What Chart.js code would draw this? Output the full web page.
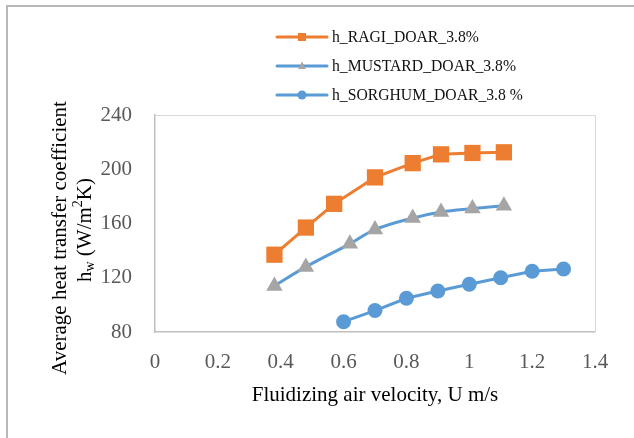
<!DOCTYPE html>
<html>
<head>
<meta charset="utf-8">
<script src="https://cdn.jsdelivr.net/npm/chart.js@4.4.1/dist/chart.umd.min.js"></script>
<style>
  html, body { margin: 0; padding: 0; background: #fff; }
  #wrap { position: relative; width: 634px; height: 438px; overflow: hidden; }
  #frame { position: absolute; left: 6px; top: 5px; width: 700px; height: 500px;
           border-top: 2px solid #b8b8b8; border-left: 2px solid #b8b8b8; }
  canvas { position: absolute; left: 0; top: 0; }
</style>
</head>
<body>
<div id="wrap">
  <div id="frame"></div>
  <canvas id="myChart" width="634" height="438"></canvas>
</div>
<script>
// values
const seriesNames = ['h_RAGI_DOAR_3.8%', 'h_MUSTARD_DOAR_3.8%', 'h_SORGHUM_DOAR_3.8 %'];
const xRagi = [0.38, 0.48, 0.57, 0.70, 0.82, 0.91, 1.01, 1.11];
const yRagi = [137, 157, 174.5, 194, 204.5, 211, 212, 212.5];
const xMustard = [0.38, 0.48, 0.62, 0.70, 0.82, 0.91, 1.01, 1.11];
const yMustard = [114, 128, 145, 155.5, 164, 168.5, 171, 173];
const xSorghum = [0.6, 0.7, 0.8, 0.9, 1.0, 1.1, 1.2, 1.3];
const ySorghum = [87.6, 95.8, 104.9, 110.2, 115.2, 120, 124.8, 126.5];
const xTicks = [0, 0.2, 0.4, 0.6, 0.8, 1, 1.2, 1.4];
const yTicks = [80, 120, 160, 200, 240];

const serif = 'Liberation Serif, Times New Roman, serif';
const toPoints = (xs, ys) => xs.map((x, i) => ({ x: x, y: ys[i] }));

// light box round the plot area (top and right edges)
const plotFrame = {
  id: 'plotFrame',
  beforeDatasetsDraw(chart) {
    const { ctx, chartArea: a } = chart;
    ctx.save();
    ctx.strokeStyle = '#d9d9d9';
    ctx.lineWidth = 1;
    ctx.beginPath();
    ctx.moveTo(a.left, a.top + 0.5);
    ctx.lineTo(a.right + 0.5, a.top + 0.5);
    ctx.lineTo(a.right + 0.5, a.bottom);
    ctx.stroke();
    ctx.restore();
  }
};

function marker(ctx, style, x, y, r) {
  ctx.beginPath();
  if (style === 'rect') {
    ctx.rect(x - r, y - r, 2 * r, 2 * r);
  } else if (style === 'triangle') {
    ctx.moveTo(x, y - r * 1.15);
    ctx.lineTo(x + r, y + r * 0.75);
    ctx.lineTo(x - r, y + r * 0.75);
    ctx.closePath();
  } else {
    ctx.arc(x, y, r, 0, Math.PI * 2);
  }
  ctx.fill();
}

// stacked legend in the top area
const stackedLegend = {
  id: 'stackedLegend',
  afterDraw(chart) {
    const { ctx } = chart;
    chart.data.datasets.forEach((ds, i) => {
      const y = 37 + i * 29;
      ctx.save();
      ctx.strokeStyle = ds.borderColor;
      ctx.lineWidth = 3;
      ctx.lineCap = 'round';
      ctx.beginPath();
      ctx.moveTo(277, y);
      ctx.lineTo(327, y);
      ctx.stroke();
      ctx.fillStyle = ds.pointBackgroundColor;
      marker(ctx, ds.pointStyle, 302, y, ds.pointStyle === 'circle' ? 4.5 : 4);
      ctx.fillStyle = '#111';
      ctx.font = '15.7px ' + serif;
      ctx.textBaseline = 'middle';
      ctx.textAlign = 'left';
      ctx.fillText(ds.label, 332, y + 1);
      ctx.restore();
    });
  }
};

// two-line y title with subscript and superscript
const yTitle = {
  id: 'yTitle',
  afterDraw(chart) {
    const { ctx } = chart;
    const big = '21px ' + serif, small = '14px ' + serif;
    ctx.save();
    ctx.fillStyle = '#000';
    ctx.textBaseline = 'middle';
    ctx.textAlign = 'center';
    ctx.translate(60, 238);
    ctx.rotate(-Math.PI / 2);
    ctx.font = big;
    ctx.fillText('Average heat transfer coefficient', 0, 0);
    ctx.restore();

    const parts = [
      { t: 'h', f: big, dy: 0 },
      { t: 'w', f: small, dy: 5 },
      { t: ' (W/m', f: big, dy: 0 },
      { t: '2', f: small, dy: -7 },
      { t: 'K)', f: big, dy: 0 }
    ];
    ctx.save();
    let total = 0;
    parts.forEach(p => { ctx.font = p.f; p.w = ctx.measureText(p.t).width; total += p.w; });
    ctx.fillStyle = '#000';
    ctx.textBaseline = 'middle';
    ctx.textAlign = 'left';
    ctx.translate(85, 230);
    ctx.rotate(-Math.PI / 2);
    let x = -total / 2;
    parts.forEach(p => { ctx.font = p.f; ctx.fillText(p.t, x, p.dy); x += p.w; });
    ctx.restore();
  }
};

const ctx = document.getElementById('myChart');
new Chart(ctx, {
  type: 'line',
  data: {
    datasets: [{
      label: seriesNames[0],
      data: toPoints(xRagi, yRagi),
      borderColor: '#ED7D31',
      borderWidth: 3,
      pointStyle: 'rect',
      pointRadius: 11.5,
      pointBorderWidth: 0,
      pointBackgroundColor: '#ED7D31',
      tension: 0
    }, {
      label: seriesNames[1],
      data: toPoints(xMustard, yMustard),
      borderColor: '#5B9BD5',
      borderWidth: 3,
      pointStyle: 'triangle',
      pointRadius: 9.5,
      pointBorderWidth: 0,
      pointBackgroundColor: '#A5A5A5',
      tension: 0.4
    }, {
      label: seriesNames[2],
      data: toPoints(xSorghum, ySorghum),
      borderColor: '#5B9BD5',
      borderWidth: 3,
      pointStyle: 'circle',
      pointRadius: 7.5,
      pointBorderWidth: 0,
      pointBackgroundColor: '#5B9BD5',
      tension: 0
    }]
  },
  options: {
    responsive: false,
    animation: false,
    layout: { padding: { top: 115, right: 39, left: 0, bottom: 0 } },
    scales: {
      x: {
        type: 'linear',
        min: 0,
        max: 1.4,
        afterBuildTicks: s => { s.ticks = xTicks.map(v => ({ value: v })); },
        afterFit: s => { s.height = 106; },
        grid: { display: false, drawTicks: false },
        border: { color: '#bfbfbf', width: 1.5 },
        ticks: {
          padding: 18,
          color: '#595959',
          font: { family: serif, size: 21 },
          callback: v => String(Math.round(v * 10) / 10)
        },
        title: {
          display: true,
          text: 'Fluidizing air velocity, U m/s',
          color: '#000',
          font: { family: serif, size: 21 },
          padding: { top: 0, bottom: 30 }
        }
      },
      y: {
        min: 80,
        max: 240,
        afterBuildTicks: s => { s.ticks = yTicks.map(v => ({ value: v })); },
        afterFit: s => { s.width = 155; },
        grid: { display: false, drawTicks: false },
        border: { color: '#bfbfbf', width: 1.5 },
        ticks: {
          padding: 23,
          color: '#595959',
          font: { family: serif, size: 21 }
        }
      }
    },
    plugins: {
      legend: { display: false },
      tooltip: { enabled: false }
    }
  },
  plugins: [plotFrame, stackedLegend, yTitle]
});
</script>
</body>
</html>
